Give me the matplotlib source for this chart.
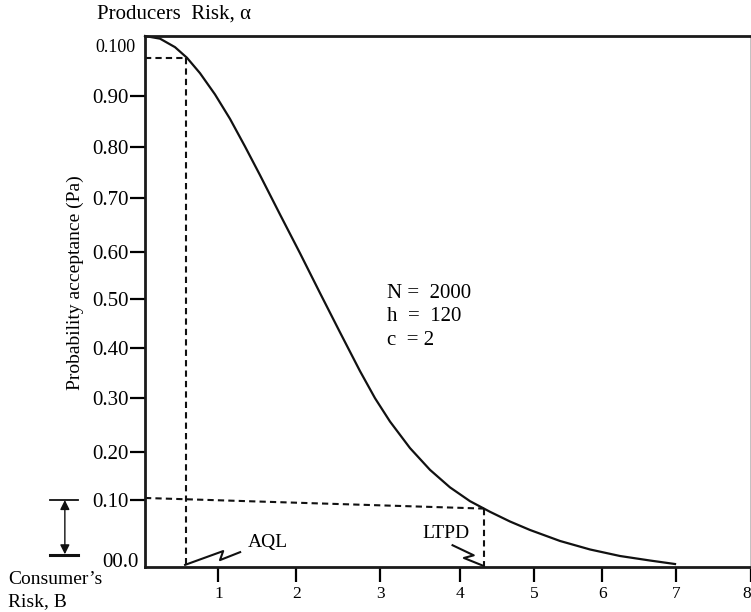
import numpy as np
import matplotlib.pyplot as plt

plt.rcParams['font.family'] = ['Liberation Serif', 'DejaVu Serif']

# OC curve (fraction defective, probability of acceptance)
p = [0.000, 0.198, 0.396, 0.554, 0.726, 0.924, 1.122, 1.320, 1.518, 1.782,
     2.046, 2.310, 2.574, 2.838, 3.036, 3.234, 3.498, 3.762, 4.026, 4.290,
     4.554, 4.818, 5.083, 5.479, 5.875, 6.271, 6.667, 6.997]
pa = [1.000, 0.995, 0.979, 0.959, 0.930, 0.890, 0.844, 0.792, 0.738, 0.664,
      0.591, 0.516, 0.442, 0.369, 0.318, 0.274, 0.224, 0.183, 0.150, 0.124,
      0.104, 0.0857, 0.0697, 0.0490, 0.0330, 0.0207, 0.0122, 0.0056]

# AQL / LTPD guide points
aql_x, aql_y = 0.536, 0.959
ltpd_x, ltpd_y = 4.476, 0.110
beta_left = 0.130

# tick positions as drawn in the (hand-drawn) figure
xtick_pos = [0.969, 1.997, 3.107, 4.165, 5.134, 6.039, 7.008, 8.0]
xtick_lab = ['1', '2', '3', '4', '5', '6', '7', '8']
ytick_pos = [0.887, 0.791, 0.695, 0.593, 0.505, 0.412, 0.318, 0.217, 0.126]
ytick_lab = ['0.90', '0.80', '0.70', '0.60', '0.50', '0.40', '0.30', '0.20', '0.10']

fig = plt.figure(figsize=(7.51, 6.12), dpi=100)
ax = fig.add_axes([145/751, 45/612, 606/751, 531/612])
ax.set_xlim(0, 8)
ax.set_ylim(0, 1)

ax.plot(p, pa, color='#111111', lw=1.6, clip_on=False, solid_joinstyle='round')

dash = dict(color='#111111', lw=1.5, ls=(0, (3, 2)))
ax.plot([0, aql_x], [aql_y, aql_y], **dash)
ax.plot([aql_x, aql_x], [aql_y, 0], **dash)
ax.plot([0, ltpd_x], [beta_left, ltpd_y], **dash)
ax.plot([ltpd_x, ltpd_x], [ltpd_y, 0], **dash)

for s in ax.spines.values():
    s.set_linewidth(2)
    s.set_color('#1a1a1a')
ax.spines['right'].set_color('#bbbbbb')

ax.set_xticks(xtick_pos, xtick_lab)
ax.set_yticks(ytick_pos, ytick_lab)
ax.tick_params(axis='x', direction='out', length=11, width=1.6, labelsize=12.5, pad=3)
ax.tick_params(axis='y', direction='out', length=11, width=1.6, labelsize=15, pad=1)
# last label sits at the right edge of the figure
ax.get_xticklabels()[-1].set_horizontalalignment('right')

ax.text(-0.13, 0.979, '0.100', fontsize=13, ha='right', va='center')
ax.text(-0.09, 0.009, '00.0', fontsize=15, ha='right', va='center')

ax.set_ylabel('Probability acceptance (Pa)', fontsize=14)
ax.yaxis.set_label_coords(-0.10, 0.535)

ax.text(3.2, 0.471, 'N =  2000\nh  =  120\nc  = 2', fontsize=15,
        ha='left', va='center', linespacing=1.3)

# AQL and LTPD zigzag pointers
ax.plot([0.529, 1.032, 0.99, 1.256], [0.004, 0.030, 0.013, 0.028],
        color='#111111', lw=1.5, clip_on=False)
ax.text(1.36, 0.047, 'AQL', fontsize=14, ha='left', va='center')
ax.plot([4.06, 4.34, 4.21, 4.47], [0.041, 0.022, 0.017, 0.002],
        color='#111111', lw=1.5, clip_on=False)
ax.text(3.97, 0.064, 'LTPD', fontsize=14, ha='center', va='center')

# consumer's risk bracket
ax.annotate('', xy=(-1.058, 0.126), xytext=(-1.058, 0.024),
            arrowprops=dict(arrowstyle='<|-|>', color='#111111', lw=1.0,
                            mutation_scale=14, shrinkA=0, shrinkB=0),
            annotation_clip=False)
ax.plot([-1.26, -0.89], [0.126, 0.126], color='#111111', lw=1.3, clip_on=False)
ax.plot([-1.26, -0.89], [0.0226, 0.0226], color='#111111', lw=2.2, clip_on=False)

fig.text(8/751, 1 - 580/612, "Consumer\u2019s", fontsize=14, ha='left', va='center')
fig.text(8/751, 1 - 602/612, 'Risk, B', fontsize=14, ha='left', va='center')
fig.text(97/751, 1 - 14/612, 'Producers  Risk, \u03b1', fontsize=15, ha='left', va='center')

fig.savefig('out.png', dpi=100)
